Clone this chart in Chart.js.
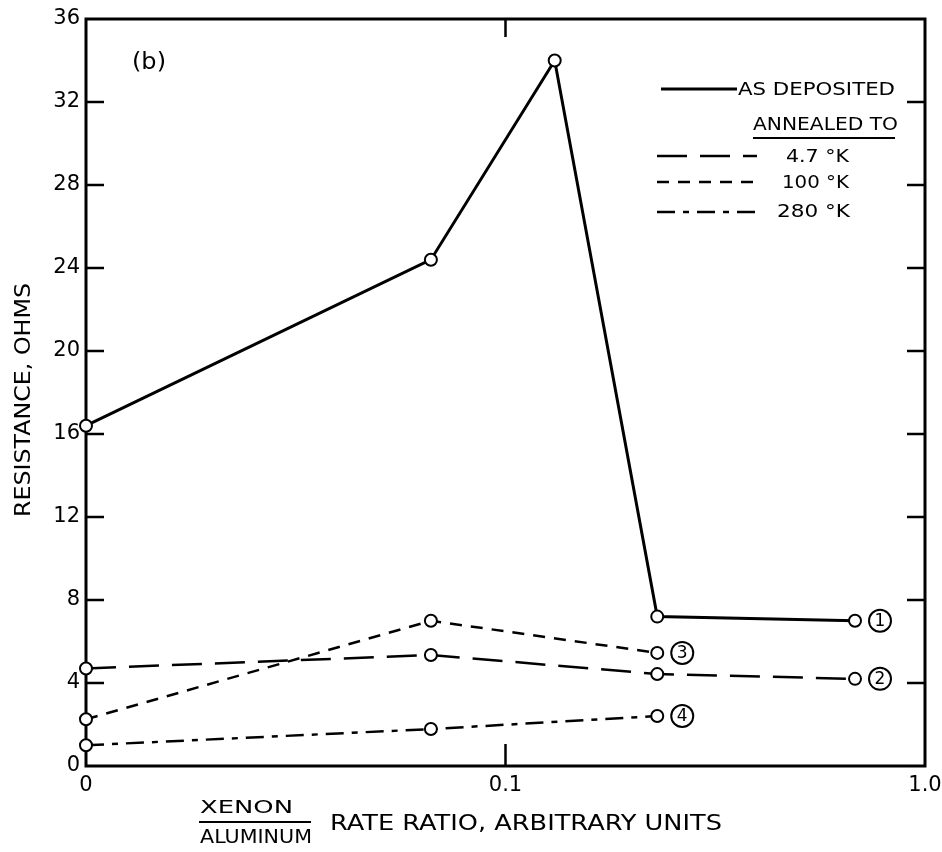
<!DOCTYPE html>
<html>
<head>
<meta charset="utf-8">
<script src="https://cdn.jsdelivr.net/npm/chart.js@4"></script>
<style>
  html, body { margin: 0; padding: 0; background: #fff; }
  #wrap { width: 942px; height: 852px; }
</style>
</head>
<body>
<div id="wrap"><canvas id="c" width="942" height="852"></canvas></div>
<script>
// ---- data ----
const xTickValues = [0.01, 0.1, 1.0];
const xTickLabels = ['0', '0.1', '1.0'];
const yTickStep = 4;

const asDepositedX = [0.01, 0.0664, 0.131, 0.230, 0.681];
const asDepositedY = [16.4, 24.4, 34.0, 7.2, 7.0];

const annealed47X = [0.01, 0.0664, 0.230, 0.681];
const annealed47Y = [4.7, 5.35, 4.43, 4.2];

const annealed100X = [0.01, 0.0664, 0.230];
const annealed100Y = [2.25, 7.0, 5.45];

const annealed280X = [0.01, 0.0664, 0.230];
const annealed280Y = [1.0, 1.78, 2.41];

const seriesNames = ['AS DEPOSITED', '4.7 °K', '100 °K', '280 °K'];
const curveNumbers = ['1', '2', '3', '4'];

// ---- build ----
const FONT = "'DejaVu Sans', sans-serif";
function pts(xs, ys) { return xs.map((x, i) => ({ x: x, y: ys[i] })); }

const dashes = [[], [30, 13], [12, 9], [18, 8, 6, 8]];
const widths = [3, 2.5, 2.5, 2.5];
const allX = [asDepositedX, annealed47X, annealed100X, annealed280X];
const allY = [asDepositedY, annealed47Y, annealed100Y, annealed280Y];

const datasets = allX.map((xs, i) => ({
  label: seriesNames[i],
  data: pts(xs, allY[i]),
  showLine: true,
  borderColor: '#000',
  borderWidth: widths[i],
  borderDash: dashes[i],
  pointRadius: 6,
  pointHoverRadius: 6,
  pointBorderWidth: 2,
  pointBackgroundColor: '#fff',
  pointBorderColor: '#000',
  clip: false,
  tension: 0
}));

function fitText(ctx, text, x, y, w, font) {
  ctx.save();
  ctx.font = font;
  ctx.textBaseline = 'middle';
  ctx.textAlign = 'left';
  const m = ctx.measureText(text).width;
  ctx.translate(x, y);
  ctx.scale(w / m, 1);
  ctx.fillText(text, 0, 0);
  ctx.restore();
}

const framePlugin = {
  id: 'frame',
  beforeDatasetsDraw(chart) {
    const { ctx, chartArea: a, scales } = chart;
    ctx.save();
    ctx.strokeStyle = '#000';
    ctx.lineWidth = 3;
    ctx.setLineDash([]);
    ctx.strokeRect(a.left, a.top, a.right - a.left, a.bottom - a.top);
    ctx.lineWidth = 2.5;
    const tl = 18;
    scales.y.ticks.forEach(t => {
      if (t.value <= scales.y.min || t.value >= scales.y.max) return;
      const py = scales.y.getPixelForValue(t.value);
      ctx.beginPath();
      ctx.moveTo(a.left, py); ctx.lineTo(a.left + tl, py);
      ctx.moveTo(a.right, py); ctx.lineTo(a.right - tl, py);
      ctx.stroke();
    });
    scales.x.ticks.forEach(t => {
      if (t.value <= scales.x.min || t.value >= scales.x.max) return;
      const px = scales.x.getPixelForValue(t.value);
      ctx.beginPath();
      ctx.moveTo(px, a.bottom); ctx.lineTo(px, a.bottom - 22);
      ctx.moveTo(px, a.top); ctx.lineTo(px, a.top + tl);
      ctx.stroke();
    });
    ctx.restore();
  },
  afterDraw(chart) {
    const { ctx, scales } = chart;
    ctx.save();
    ctx.fillStyle = '#000';
    ctx.strokeStyle = '#000';
    // panel label
    fitText(ctx, '(b)', 132, 63, 34, '23px ' + FONT);

    // legend
    const legendLines = [
      { i: 0, x0: 661, x1: 737, y: 89 },
      { i: 1, x0: 657, x1: 757, y: 156 },
      { i: 2, x0: 657, x1: 757, y: 182 },
      { i: 3, x0: 657, x1: 757, y: 212 }
    ];
    legendLines.forEach(l => {
      ctx.beginPath();
      ctx.lineWidth = widths[l.i];
      ctx.setLineDash(dashes[l.i]);
      ctx.moveTo(l.x0, l.y); ctx.lineTo(l.x1, l.y);
      ctx.stroke();
    });
    ctx.setLineDash([]);
    fitText(ctx, seriesNames[0], 738, 90, 157, '18px ' + FONT);
    fitText(ctx, 'ANNEALED TO', 753, 125, 145, '18px ' + FONT);
    ctx.lineWidth = 2;
    ctx.beginPath(); ctx.moveTo(753, 138); ctx.lineTo(895, 138); ctx.stroke();
    fitText(ctx, seriesNames[1], 786, 157, 63, '18px ' + FONT);
    fitText(ctx, seriesNames[2], 782, 183, 67, '18px ' + FONT);
    fitText(ctx, seriesNames[3], 777, 212, 73, '18px ' + FONT);

    // circled curve numbers at the end of each series
    chart.data.datasets.forEach((ds, i) => {
      const last = ds.data[ds.data.length - 1];
      const px = scales.x.getPixelForValue(last.x) + 25;
      const py = scales.y.getPixelForValue(last.y);
      ctx.beginPath();
      ctx.lineWidth = 2;
      ctx.arc(px, py, 11, 0, Math.PI * 2);
      ctx.stroke();
      ctx.font = '17px ' + FONT;
      ctx.textAlign = 'center';
      ctx.textBaseline = 'middle';
      ctx.fillText(curveNumbers[i], px, py + 1);
    });

    // x-axis title (fraction + text)
    fitText(ctx, 'XENON', 200, 808, 93, '18px ' + FONT);
    ctx.lineWidth = 2;
    ctx.beginPath(); ctx.moveTo(199, 822); ctx.lineTo(311, 822); ctx.stroke();
    fitText(ctx, 'ALUMINUM', 200, 838, 112, '20px ' + FONT);
    fitText(ctx, 'RATE RATIO, ARBITRARY UNITS', 330, 824, 392, '22px ' + FONT);

    // y-axis title
    ctx.save();
    ctx.translate(24, 400);
    ctx.rotate(-Math.PI / 2);
    fitText(ctx, 'RESISTANCE, OHMS', -117, 0, 234, '22px ' + FONT);
    ctx.restore();
    ctx.restore();
  }
};

new Chart(document.getElementById('c'), {
  type: 'scatter',
  data: { datasets: datasets },
  options: {
    responsive: false,
    animation: false,
    events: [],
    layout: { padding: { top: 19, right: 17, left: 0, bottom: 0 } },
    plugins: { legend: { display: false }, tooltip: { enabled: false }, title: { display: false } },
    scales: {
      x: {
        type: 'logarithmic',
        min: xTickValues[0],
        max: xTickValues[xTickValues.length - 1],
        afterBuildTicks(scale) { scale.ticks = xTickValues.map(v => ({ value: v })); },
        afterFit(scale) { scale.height = 86; scale.paddingLeft = 0; scale.paddingRight = 0; },
        grid: { display: false, drawTicks: false },
        border: { display: false },
        ticks: {
          autoSkip: false,
          maxRotation: 0,
          padding: 7,
          color: '#000',
          font: { family: FONT, size: 21 },
          callback(value, index) { return xTickLabels[index]; }
        }
      },
      y: {
        min: 0,
        max: 36,
        afterFit(scale) { scale.width = 86; scale.paddingTop = 0; scale.paddingBottom = 0; },
        grid: { display: false, drawTicks: false },
        border: { display: false },
        ticks: {
          stepSize: yTickStep,
          padding: 6,
          color: '#000',
          font: { family: FONT, size: 21 }
        }
      }
    }
  },
  plugins: [framePlugin]
});
</script>
</body>
</html>
